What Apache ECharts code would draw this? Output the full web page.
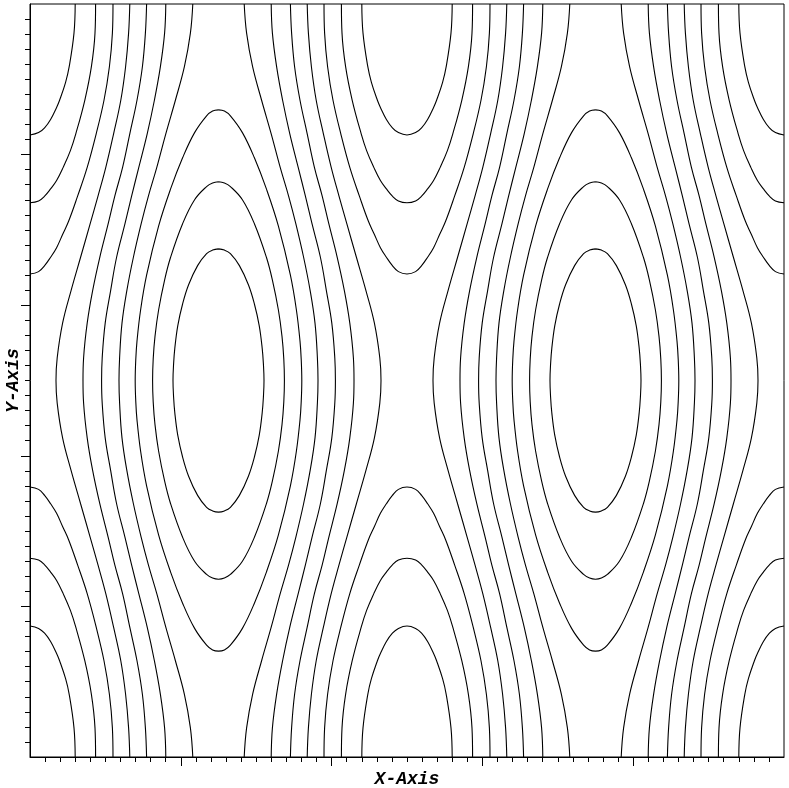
<!DOCTYPE html>
<html>
<head>
<meta charset="utf-8">
<title>Contour</title>
<script src="https://cdn.jsdelivr.net/npm/echarts@6/dist/echarts.min.js"></script>
<style>
    html, body { margin: 0; padding: 0; background: #fff; }
    #chart { width: 789px; height: 788px; }
</style>
</head>
<body>
<div id="chart"></div>
<script>
const TWO_PI = 2 * Math.PI;
const X_MAX = 4 * Math.PI;
const Y_MAX = 2 * Math.PI;
const X_STEP = X_MAX / 5;
const Y_STEP = Y_MAX / 5;
const xTicks = [1, 2, 3, 4].map(i => i * X_STEP);
const yTicks = [1, 2, 3, 4].map(i => i * Y_STEP);

// contour pieces (upper half, between the
// ellipse column x = pi and the saddle column x = 2pi)
// closed rings round the maximum, quarter from the top down to the middle row
const ringInner = [[3.142,4.24],[3.24,4.23],[3.34,4.20],[3.49,4.10],[3.64,3.94],[3.74,3.78],[3.82,3.60],[3.87,3.41],[3.89,3.28],[3.90,3.142]];
const ringMid = [[3.142,4.80],[3.24,4.79],[3.34,4.76],[3.54,4.65],[3.74,4.45],[3.94,4.17],[4.04,3.98],[4.14,3.73],[4.20,3.51],[4.23,3.32],[4.24,3.142]];
const ringOuter = [[3.142,5.40],[3.24,5.39],[3.34,5.35],[3.54,5.21],[3.74,5.00],[3.94,4.74],[4.14,4.43],[4.34,4.02],[4.44,3.73],[4.50,3.47],[4.52,3.32],[4.53,3.142]];

// open lines running top to bottom, top half
const line1 = [[3.57,6.283],[3.61,6.04],[3.71,5.76],[3.86,5.48],[4.02,5.20],[4.17,4.92],[4.31,4.68],[4.43,4.45],[4.56,4.17],[4.67,3.89],[4.75,3.62],[4.79,3.33],[4.80,3.142]];
const line2 = [[4.02,6.283],[4.04,6.04],[4.11,5.76],[4.21,5.48],[4.33,5.20],[4.47,4.92],[4.59,4.68],[4.70,4.45],[4.84,4.17],[4.94,3.89],[5.03,3.62],[5.08,3.33],[5.09,3.142]];
const line3 = [[4.34,6.283],[4.36,6.04],[4.41,5.76],[4.50,5.48],[4.62,5.20],[4.74,4.92],[4.87,4.68],[4.98,4.45],[5.12,4.17],[5.24,3.89],[5.33,3.62],[5.39,3.33],[5.40,3.142]];
const line4 = [[4.62,6.283],[4.64,6.04],[4.69,5.76],[4.77,5.48],[4.89,5.20],[5.02,4.92],[5.15,4.68],[5.28,4.45],[5.44,4.17],[5.60,3.89],[5.74,3.62],[5.83,3.33],[5.85,3.142]];

// caps round the minimum on the top edge, half from the edge to x = 2pi
const capOuter = [[4.90,6.283],[4.91,6.04],[4.96,5.76],[5.05,5.48],[5.18,5.20],[5.33,4.92],[5.49,4.68],[5.64,4.47],[5.74,4.36],[5.84,4.25],[5.94,4.17],[6.04,4.10],[6.14,4.05],[6.283,4.03]];
const capMid = [[5.19,6.283],[5.20,6.04],[5.26,5.76],[5.37,5.48],[5.52,5.20],[5.61,5.06],[5.73,4.92],[5.84,4.81],[5.94,4.74],[6.04,4.68],[6.14,4.64],[6.283,4.625]];
const capInner = [[5.53,6.283],[5.55,6.04],[5.63,5.76],[5.69,5.63],[5.79,5.48],[5.84,5.42],[5.94,5.32],[6.04,5.25],[6.14,5.21],[6.283,5.19]];

// the picture repeats by mirror, so the other parts are flipped copies
const mirrorX = (pts, c) => pts.map(p => [2 * c - p[0], p[1]]);
const mirrorY = pts => pts.map(p => [p[0], Y_MAX - p[1]]);
const shiftX = (pts, d) => pts.map(p => [p[0] + d, p[1]]);
// a and b both end at the shared point
const join = (a, b) => a.concat(b.slice().reverse().slice(1));

let curves = [];
[ringInner, ringMid, ringOuter].forEach(q => {
    let right = join(q, mirrorY(q));
    let loop = join(right, mirrorX(right, Math.PI));
    curves.push(loop, shiftX(loop, TWO_PI));
});
[line1, line2, line3, line4].forEach(h => {
    let full = join(h, mirrorY(h));
    curves.push(full, mirrorX(full, Math.PI), mirrorX(full, TWO_PI), shiftX(full, TWO_PI));
});
[capOuter, capMid, capInner].forEach(c => {
    let u = join(c, mirrorX(c, TWO_PI));
    let left = mirrorX(c, Math.PI);
    let right = shiftX(c, TWO_PI);
    curves.push(u, mirrorY(u), left, mirrorY(left), right, mirrorY(right));
});

let nameStyle = {
    fontFamily: "Liberation Mono",
    fontWeight: "bold",
    fontStyle: "italic",
    fontSize: 18,
    color: "#000",
};

let myChart = echarts.init(document.getElementById("chart"));
myChart.setOption({
    animation: false,
    backgroundColor: "#fff",
    grid: {
        left: 30,
        top: 4,
        right: 5,
        bottom: 31,
        outerBoundsMode: "none",
        containLabel: false,
        show: true,
        borderColor: "#000",
        borderWidth: 1,
    },
    xAxis: {
        type: "value",
        min: 0,
        max: X_MAX,
        interval: X_STEP,
        name: "X-Axis",
        nameLocation: "middle",
        nameGap: 13,
        nameTextStyle: nameStyle,
        axisLine: { lineStyle: { color: "#000", width: 1 } },
        axisTick: { customValues: xTicks, length: 9, lineStyle: { color: "#000" } },
        minorTick: { show: true, splitNumber: 10, length: 5, lineStyle: { color: "#000" } },
        axisLabel: { show: false },
        splitLine: { show: false },
    },
    yAxis: {
        type: "value",
        min: 0,
        max: Y_MAX,
        interval: Y_STEP,
        name: "Y-Axis",
        nameLocation: "middle",
        nameRotate: 90,
        nameGap: 8,
        nameTextStyle: nameStyle,
        axisLine: { show: true, lineStyle: { color: "#000", width: 1 } },
        axisTick: { show: true, customValues: yTicks, length: 9, lineStyle: { color: "#000" } },
        minorTick: { show: true, splitNumber: 10, length: 5, lineStyle: { color: "#000" } },
        axisLabel: { show: false },
        splitLine: { show: false },
    },
    series: curves.map(pts => ({
        type: "line",
        data: pts,
        smooth: 0.4,
        symbol: "none",
        silent: true,
        lineStyle: { color: "#000", width: 1.1 },
    })),
});
</script>
</body>
</html>
